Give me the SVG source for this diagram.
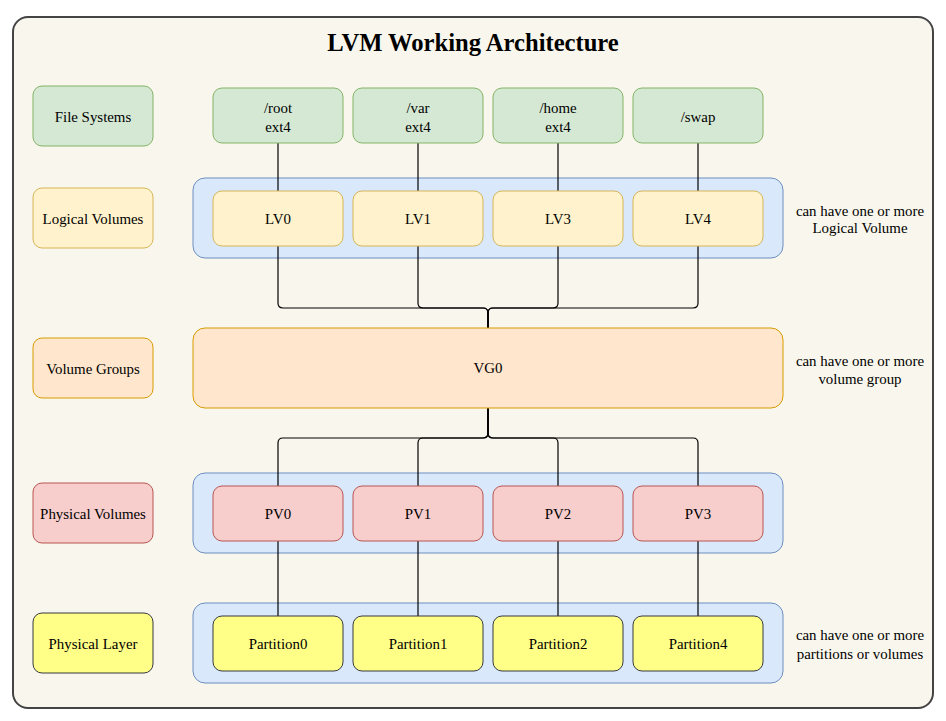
<svg xmlns="http://www.w3.org/2000/svg" width="946" height="721" viewBox="0 0 946 721">
<style>
text{font-family:"Liberation Serif","Times New Roman",serif;font-size:14.9px;fill:#000;text-anchor:middle}
.title{font-size:24.6px;font-weight:bold}
.fs{fill:#d5e8d4;stroke:#82b366;stroke-width:1}
.lv{fill:#fff2cc;stroke:#d6b656;stroke-width:1}
.vg{fill:#ffe6cc;stroke:#d79b00;stroke-width:1}
.pv{fill:#f8cecc;stroke:#b85450;stroke-width:1}
.pl{fill:#ffff88;stroke:#36393d;stroke-width:1}
.grp{fill:#dae8fc;stroke:#6c8ebf;stroke-width:1}
.edge{fill:none;stroke:#000;stroke-width:1.2}
</style>
<rect width="946" height="721" fill="#ffffff"/>
<g id="frame">
<rect x="13" y="17" width="920" height="691" rx="15" fill="#f9f7ed" stroke="#444" stroke-width="2"/>
<text class="title" x="473" y="51">LVM Working Architecture</text>
</g>
<g id="containers">
<rect id="lv-group" class="grp" x="193" y="178" width="590" height="80" rx="12"/>
<rect id="pv-group" class="grp" x="193" y="473" width="590" height="80" rx="12"/>
<rect id="pl-group" class="grp" x="193" y="603" width="590" height="80" rx="12"/>
</g>
<g id="connectors">
<path class="edge" d="M278,143V191"/>
<path class="edge" d="M418,143V191"/>
<path class="edge" d="M558,143V191"/>
<path class="edge" d="M698,143V191"/>
<path class="edge" d="M278,246V303Q278,308 283,308H483Q488,308 488,313V328"/>
<path class="edge" d="M418,246V303Q418,308 423,308H483Q488,308 488,313V328"/>
<path class="edge" d="M558,246V303Q558,308 553,308H493Q488,308 488,313V328"/>
<path class="edge" d="M698,246V303Q698,308 693,308H493Q488,308 488,313V328"/>
<path class="edge" d="M488,408V433Q488,438 483,438H283Q278,438 278,443V486"/>
<path class="edge" d="M488,408V433Q488,438 483,438H423Q418,438 418,443V486"/>
<path class="edge" d="M488,408V433Q488,438 493,438H553Q558,438 558,443V486"/>
<path class="edge" d="M488,408V433Q488,438 493,438H693Q698,438 698,443V486"/>
<path class="edge" d="M278,541V616"/>
<path class="edge" d="M418,541V616"/>
<path class="edge" d="M558,541V616"/>
<path class="edge" d="M698,541V616"/>
</g>
<g id="label-fs"><rect class="fs" x="33" y="86" width="120" height="60" rx="9"/><text x="93" y="122">File Systems</text></g>
<g id="label-lv"><rect class="lv" x="33" y="188" width="120" height="60" rx="9"/><text x="93" y="224">Logical Volumes</text></g>
<g id="label-vg"><rect class="vg" x="33" y="338" width="120" height="60" rx="9"/><text x="93" y="374">Volume Groups</text></g>
<g id="label-pv"><rect class="pv" x="33" y="483" width="120" height="60" rx="9"/><text x="93" y="519">Physical Volumes</text></g>
<g id="label-pl"><rect class="pl" x="33" y="613" width="120" height="60" rx="9"/><text x="93" y="649">Physical Layer</text></g>
<g id="fs-root"><rect class="fs" x="213" y="88" width="130" height="55" rx="9"/><text x="278" y="113">/root</text><text x="278" y="132">ext4</text></g>
<g id="fs-var"><rect class="fs" x="353" y="88" width="130" height="55" rx="9"/><text x="418" y="113">/var</text><text x="418" y="132">ext4</text></g>
<g id="fs-home"><rect class="fs" x="493" y="88" width="130" height="55" rx="9"/><text x="558" y="113">/home</text><text x="558" y="132">ext4</text></g>
<g id="fs-swap"><rect class="fs" x="633" y="88" width="130" height="55" rx="9"/><text x="698" y="122">/swap</text></g>
<g id="lv0"><rect class="lv" x="213" y="191" width="130" height="55" rx="9"/><text x="278" y="224">LV0</text></g>
<g id="lv1"><rect class="lv" x="353" y="191" width="130" height="55" rx="9"/><text x="418" y="224">LV1</text></g>
<g id="lv3"><rect class="lv" x="493" y="191" width="130" height="55" rx="9"/><text x="558" y="224">LV3</text></g>
<g id="lv4"><rect class="lv" x="633" y="191" width="130" height="55" rx="9"/><text x="698" y="224">LV4</text></g>
<g id="vg0"><rect class="vg" x="193" y="328" width="590" height="80" rx="12"/><text x="488" y="373">VG0</text></g>
<g id="pv0"><rect class="pv" x="213" y="486" width="130" height="55" rx="9"/><text x="278" y="519">PV0</text></g>
<g id="pv1"><rect class="pv" x="353" y="486" width="130" height="55" rx="9"/><text x="418" y="519">PV1</text></g>
<g id="pv2"><rect class="pv" x="493" y="486" width="130" height="55" rx="9"/><text x="558" y="519">PV2</text></g>
<g id="pv3"><rect class="pv" x="633" y="486" width="130" height="55" rx="9"/><text x="698" y="519">PV3</text></g>
<g id="part0"><rect class="pl" x="213" y="616" width="130" height="55" rx="9"/><text x="278" y="649">Partition0</text></g>
<g id="part1"><rect class="pl" x="353" y="616" width="130" height="55" rx="9"/><text x="418" y="649">Partition1</text></g>
<g id="part2"><rect class="pl" x="493" y="616" width="130" height="55" rx="9"/><text x="558" y="649">Partition2</text></g>
<g id="part4"><rect class="pl" x="633" y="616" width="130" height="55" rx="9"/><text x="698" y="649">Partition4</text></g>
<g id="notes">
<text x="860" y="216">can have one or more</text>
<text x="860" y="233">Logical Volume</text>
<text x="860" y="366">can have one or more</text>
<text x="860" y="384">volume group</text>
<text x="860" y="640">can have one or more</text>
<text x="860" y="659">partitions or volumes</text>
</g>
</svg>
